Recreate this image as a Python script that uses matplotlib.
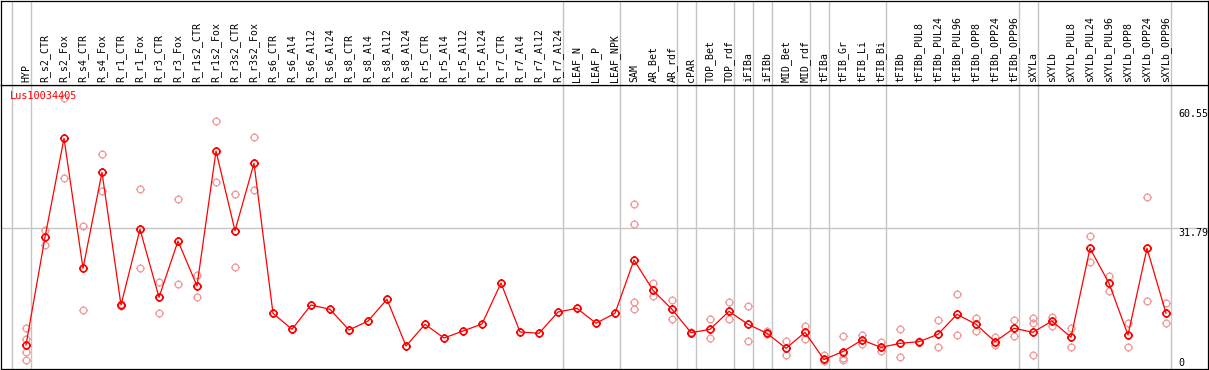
import matplotlib
matplotlib.use("Agg")
import matplotlib.pyplot as plt
from matplotlib.path import Path
from matplotlib.transforms import ScaledTranslation

# sample names (column headers)
samples = [
    "HYP", "R_s2_CTR", "R_s2_Fox", "R_s4_CTR", "R_s4_Fox", "R_r1_CTR", "R_r1_Fox",
    "R_r3_CTR", "R_r3_Fox", "R_r1s2_CTR", "R_r1s2_Fox", "R_r3s2_CTR", "R_r3s2_Fox",
    "R_s6_CTR", "R_s6_Al4", "R_s6_Al12", "R_s6_Al24", "R_s8_CTR", "R_s8_Al4",
    "R_s8_Al12", "R_s8_Al24", "R_r5_CTR", "R_r5_Al4", "R_r5_Al12", "R_r5_Al24",
    "R_r7_CTR", "R_r7_Al4", "R_r7_Al12", "R_r7_Al24", "LEAF_N", "LEAF_P", "LEAF_NPK",
    "SAM", "AR_Bet", "AR_rdf", "cPAR", "TOP_Bet", "TOP_rdf", "iFIBa", "iFIBb",
    "MID_Bet", "MID_rdf", "tFIBa", "tFIB_Gr", "tFIB_Li", "tFIB_Bi", "tFIBb",
    "tFIBb_PUL8", "tFIBb_PUL24", "tFIBb_PUL96", "tFIBb_OPP8", "tFIBb_OPP24",
    "tFIBb_OPP96", "sXYLa", "sXYLb", "sXYLb_PUL8", "sXYLb_PUL24", "sXYLb_PUL96",
    "sXYLb_OPP8", "sXYLb_OPP24", "sXYLb_OPP96",
]

# mean expression per sample
means = [
    3.77, 29.63, 53.4, 22.18, 45.23, 13.37, 31.55, 15.22, 28.74, 17.94, 50.35,
    31.21, 47.39, 11.38, 7.54, 13.37, 12.34, 7.37, 9.53, 14.74, 3.53, 8.74, 5.45,
    7.13, 8.81, 18.66, 6.89, 6.58, 11.69, 12.58, 8.98, 11.38, 24.18, 16.9, 12.34,
    6.72, 7.54, 11.86, 8.74, 6.58, 2.98, 6.82, 0.3, 2.2, 4.97, 3.2, 4.17, 4.57,
    6.34, 11.14, 8.74, 4.57, 7.78, 6.82, 9.53, 5.62, 26.99, 18.58, 6.17, 26.99, 11.38,
]

# individual replicates per sample
replicates = [
    [7.78, 5.21, 2.02, 0.05], [31.38, 27.78], [63.0, 43.79], [32.34, 12.17],
    [49.56, 40.82], [13.6, 13.1], [41.15, 22.18], [18.97, 11.38], [38.75, 18.34],
    [20.58, 15.22], [57.62, 42.83], [39.95, 22.42], [53.78, 40.98],
    [], [], [], [], [], [], [], [], [], [], [], [], [], [], [], [], [], [], [],
    [37.55, 32.75, 14.02, 12.48], [18.58, 15.46], [14.5, 10.08], [6.9, 6.6],
    [10.01, 5.38], [14.02, 9.94], [13.06, 4.66], [7.2, 6.34], [4.66, 1.44],
    [8.26, 5.14], [1.3, 0.0], [5.9, 0.6, 0.1], [6.1, 3.93], [4.4, 2.4],
    [7.6, 0.8], [4.4, 4.8], [9.7, 3.2], [15.94, 6.1], [10.18, 7.2], [5.76, 3.77],
    [9.7, 5.86], [10.18, 8.98, 1.3], [10.57, 8.33], [7.78, 3.36], [29.87, 23.77],
    [20.34, 16.81], [8.98, 3.2], [39.4, 14.26], [13.78, 8.98],
]

# group separators (drawn after these sample indices)
group_ends = [-1, 0, 28, 31, 34, 35, 37, 38, 39, 41, 42, 45, 52, 53, 60]
y_ticks = [0, 31.79, 60.55]
gene = "Lus10034405"

RED = "#ff0000"
PALE = "#f09a9a"
GRID = "#c4c4c4"
FONT = "DejaVu Sans Mono"

# circle marker with four small ticks
circ = Path.unit_circle()
ticks = Path([(0, 1), (0, 1.3), (0, -1), (0, -1.3), (1, 0), (1.3, 0), (-1, 0), (-1.3, 0)],
             [Path.MOVETO, Path.LINETO] * 4)
ring = Path.make_compound_path(circ, ticks)

W, H = 1209, 370
fig = plt.figure(figsize=(W / 100, H / 100), dpi=100)

left, right = 1, 1208
head_bot, plot_bot = 85, 369
ax = fig.add_axes([left / W, 1 - plot_bot / H, (right - left) / W, (plot_bot - head_bot) / H])
hx = fig.add_axes([left / W, 1 - head_bot / H, (right - left) / W, (head_bot - 0.5) / H])

xmin, xmax = (left - 26) / 19, (right - 26) / 19
for a in (ax, hx):
    a.set_xlim(xmin, xmax)
    a.set_xticks([])
    a.set_yticks([])
    for s in a.spines.values():
        s.set_color("black")
        s.set_linewidth(0.9)
    for g in group_ends:
        a.axvline(g + 0.25, color=GRID, lw=1.0, zorder=0)

ax.set_ylim((360.7 - plot_bot) / 4.165, (360.7 - head_bot) / 4.165)
hx.set_ylim(0, 1)

ax.axhline(31.79, color=GRID, lw=1.0, zorder=0)

for i, r in enumerate(replicates):
    ax.plot([i] * len(r), r, linestyle="none", marker=ring, markersize=6.3,
            markerfacecolor="none", markeredgecolor=PALE, markeredgewidth=0.9, zorder=2)

ax.plot(range(len(means)), means, color=RED, lw=0.9, marker=ring, markersize=6.3,
        markerfacecolor="none", markeredgecolor=RED, markeredgewidth=1.2, zorder=3)

for i, name in enumerate(samples):
    hx.text(i, 0.03, name, rotation=90, ha="center", va="bottom",
            fontsize=7.1, family=FONT, color="black")

# value labels sit just right of the last separator, top-aligned at their value
lab_x = 1 - 30 / (right - left)
for v in y_ticks:
    tr = ax.get_yaxis_transform()
    if v == 0:
        tr = tr + ScaledTranslation(0, 2 / 72, fig.dpi_scale_trans)
    ax.text(lab_x, v, f"{v:g}", transform=tr, ha="left", va="top",
            fontsize=7.2, family=FONT, color="black", clip_on=False)

ax.text(9 / (right - left), 1 - 6 / (plot_bot - head_bot), gene, transform=ax.transAxes,
        ha="left", va="top", fontsize=7.4, family=FONT, color=RED)

fig.savefig("out.png", dpi=100)
